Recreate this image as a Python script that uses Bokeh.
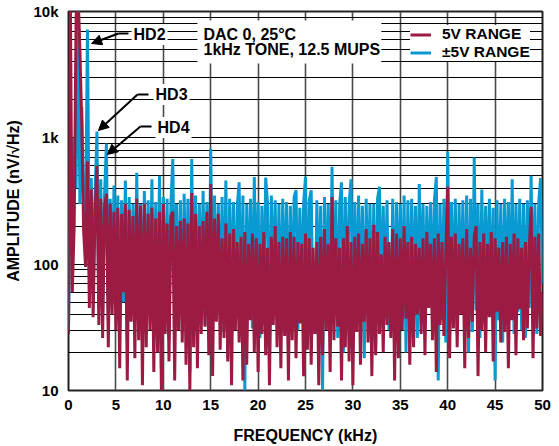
import numpy as np
from bokeh.plotting import figure
from bokeh.models import FixedTicker, Range1d, Label, Arrow, NormalHead, Legend, LegendItem
from bokeh.embed import file_html
from bokeh.resources import INLINE

# ---------------- data ----------------
freq_khz = np.linspace(0, 50, 251)   # 0.2 kHz bins

amp_5v_range = [
    28, 12000, 60, 200, 9000,
    15000, 5000, 1300, 180, 95,
    650, 45, 390, 38, 250,
    600, 33, 330, 26, 280,
    360, 22, 300, 40, 260,
    30, 280, 15, 250, 60,
    300, 12, 270, 35, 240,
    18, 330, 25, 290, 11,
    300, 22, 250, 30, 280,
    14, 230, 20, 260, 10,
    300, 28, 210, 17, 240,
    260, 12, 200, 30, 220,
    24, 230, 16, 210, 10,
    365, 22, 250, 15, 200,
    28, 220, 32, 260, 19,
    430, 13, 230, 35, 250,
    21, 160, 26, 210, 17,
    175, 11, 190, 30, 150,
    24, 165, 12, 180, 16,
    145, 36, 175, 20, 160,
    14, 145, 28, 180, 19,
    135, 11, 165, 33, 200,
    22, 150, 15, 165, 27,
    160, 12, 180, 25, 165,
    18, 150, 34, 145, 13,
    175, 21, 160, 16, 135,
    28, 150, 11, 165, 19,
    190, 30, 145, 14, 340,
    25, 160, 32, 135, 12,
    160, 22, 200, 17, 150,
    11, 165, 29, 175, 16,
    145, 35, 190, 24, 160,
    13, 205, 19, 180, 28,
    120, 20, 165, 33, 150,
    26, 190, 12, 175, 18,
    160, 30, 200, 37, 150,
    16, 165, 22, 145, 40,
    135, 28, 160, 19, 180,
    45, 145, 25, 160, 14,
    175, 33, 150, 27, 120,
    410, 18, 165, 31, 175,
    22, 145, 40, 160, 15,
    190, 26, 135, 35, 165,
    200, 13, 150, 30, 175,
    20, 145, 38, 180, 17,
    160, 42, 135, 24, 150,
    29, 165, 15, 145, 36,
    175, 19, 160, 44, 135,
    25, 150, 31, 135, 285,
    18, 165, 31, 175, 27,
    60,
]

amp_pm5v_range = [
    30, 600, 1000, 450, 400,
    14000, 300, 1750, 250, 200,
    7200, 90, 480, 60, 350,
    1120, 45, 470, 40, 350,
    900, 35, 330, 55, 420,
    45, 350, 30, 320, 50,
    460, 25, 340, 50, 300,
    40, 530, 33, 300, 28,
    380, 36, 320, 42, 470,
    25, 310, 30, 500, 15,
    340, 38, 330, 26, 300,
    680, 45, 300, 35, 320,
    30, 360, 40, 330, 14,
    680, 28, 350, 42, 300,
    48, 380, 33, 310, 25,
    820, 52, 350, 37, 300,
    40, 340, 29, 460, 18,
    330, 44, 310, 35, 290,
    445, 27, 350, 10, 300,
    50, 330, 31, 490, 44,
    310, 26, 290, 33, 485,
    300, 17, 350, 47, 320,
    36, 300, 28, 330, 40,
    310, 22, 290, 40, 340,
    385, 30, 280, 48, 300,
    490, 26, 320, 385, 35,
    28, 320, 40, 290, 10,
    340, 42, 300, 30, 590,
    37, 320, 26, 300, 445,
    20, 340, 46, 300, 470,
    28, 310, 33, 350, 41,
    290, 18, 330, 49, 300,
    27, 300, 22, 330, 410,
    35, 290, 40, 320, 30,
    42, 330, 25, 310, 45,
    300, 38, 350, 20, 320,
    29, 330, 43, 290, 26,
    430, 50, 300, 34, 290,
    52, 310, 40, 320, 490,
    12, 300, 36, 330, 24,
    780, 48, 310, 39, 330,
    28, 300, 42, 320, 30,
    350, 20, 330, 29, 700,
    43, 300, 26, 390, 34,
    290, 52, 330, 40, 280,
    12, 320, 36, 300, 24,
    330, 48, 310, 39, 470,
    28, 300, 42, 330, 30,
    300, 26, 320, 45, 500,
    33, 300, 28, 310, 480,
    70,
]

x_ticks = [0, 5, 10, 15, 20, 25, 30, 35, 40, 45, 50]
y_ticks = [10, 100, 1000, 10000]
y_tick_labels = {10: "10", 100: "100", 1000: "1k", 10000: "10k"}
y_minor = [m * d for d in (10, 100, 1000) for m in range(2, 10)]

MAROON = "#9b1b42"
BLUE = "#0a9ad2"
FONT = "Liberation Sans"

p = figure(width=559, height=446, y_axis_type="log",
           x_range=Range1d(0, 50), y_range=Range1d(10, 10000),
           output_backend="svg", toolbar_location=None,
           min_border_left=68, min_border_right=17, min_border_top=11, min_border_bottom=56)

p.background_fill_color = "white"
p.outline_line_color = "#222222"
p.outline_line_width = 2

p.xaxis.ticker = FixedTicker(ticks=x_ticks)
p.yaxis.ticker = FixedTicker(ticks=y_ticks, minor_ticks=y_minor)
p.yaxis.major_label_overrides = y_tick_labels

for ax in (p.xaxis[0], p.yaxis[0]):
    ax.axis_line_color = None
    ax.major_tick_line_color = None
    ax.minor_tick_line_color = None
    ax.major_tick_out = 0
    ax.major_tick_in = 0
    ax.minor_tick_out = 0
    ax.minor_tick_in = 0
    ax.major_label_text_font = FONT
    ax.major_label_text_font_style = "bold"
    ax.major_label_text_font_size = "15px"
    ax.major_label_text_color = "black"
    ax.axis_label_text_font = FONT
    ax.axis_label_text_font_style = "bold"
    ax.axis_label_text_font_size = "16px"
    ax.axis_label_text_color = "black"

p.xaxis.axis_label = "FREQUENCY (kHz)"
p.yaxis.axis_label = "AMPLITUDE (nV/√Hz)"
p.xaxis.major_label_standoff = 9
p.xaxis.axis_label_standoff = 14
p.yaxis.major_label_standoff = 10
p.yaxis.axis_label_standoff = 8

p.xgrid.grid_line_color = "#4a4a4a"
p.xgrid.grid_line_width = 1.6
p.ygrid.grid_line_color = "black"
p.ygrid.grid_line_width = 1.1
p.ygrid.minor_grid_line_color = "black"
p.ygrid.minor_grid_line_width = 1.1

r_blue = p.line(freq_khz, amp_pm5v_range, line_color=BLUE, line_width=3)
r_maroon = p.line(freq_khz, amp_5v_range, line_color=MAROON, line_width=3)

# white box behind the condition text
p.quad(left=[13.6], right=[33.0], bottom=[3870], top=[8490],
       fill_color="white", line_color=None)

def lab(x, y, text, bg=True):
    p.add_layout(Label(x=x, y=y, text=text, text_font=FONT, text_font_style="bold",
                       text_font_size="16px", text_color="black", text_baseline="middle",
                       text_align="left",
                       background_fill_color="white" if bg else None,
                       padding=2))

lab(14.03, 6580, "DAC 0, 25°C", bg=False)
lab(14.03, 5000, "1kHz TONE, 12.5 MUPS", bg=False)
lab(6.65, 6580, "HD2")
lab(8.97, 2203, "HD3")
lab(9.18, 1208, "HD4")

def arrow(x0, y0, x1, y1, x2, y2):
    p.line([x0, x1], [y0, y1], line_color="black", line_width=2)
    p.add_layout(Arrow(end=NormalHead(size=10, fill_color="black", line_color="black"),
                       x_start=x1, y_start=y1, x_end=x2, y_end=y2,
                       line_color="black", line_width=2))

arrow(6.33, 6700, 5.27, 6700, 2.43, 5585)
arrow(8.44, 2203, 7.28, 2203, 3.16, 1143)
arrow(8.76, 1231, 7.59, 1231, 4.11, 738)

legend = Legend(items=[LegendItem(label="5V RANGE", renderers=[r_maroon]),
                       LegendItem(label="±5V RANGE", renderers=[r_blue])],
                location=(342, 329))
legend.label_text_font = FONT
legend.label_text_font_style = "bold"
legend.label_text_font_size = "15.5px"
legend.label_text_color = "black"
legend.glyph_width = 21
legend.glyph_height = 17
legend.label_height = 17
legend.spacing = 0
legend.padding = 7
legend.margin = 0
legend.label_standoff = 11
legend.border_line_color = None
legend.background_fill_color = "white"
legend.background_fill_alpha = 1
p.add_layout(legend)

open("out.html", "w").write(file_html(p, INLINE))
